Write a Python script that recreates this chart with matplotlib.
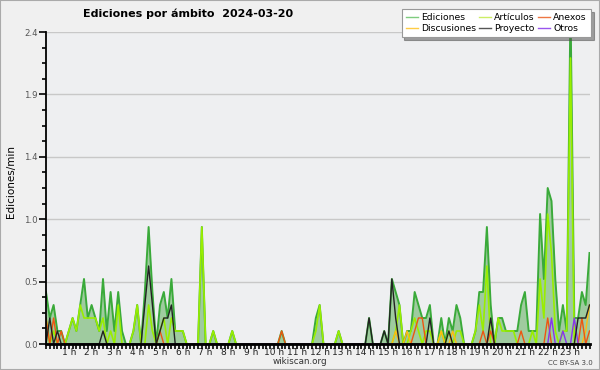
import numpy as np
import matplotlib
matplotlib.use("Agg")
import matplotlib.pyplot as plt
from matplotlib.lines import Line2D
from matplotlib.patches import Rectangle

# edits per minute, 10 minute buckets (144 per day)
ediciones = [
    0.4, 0.2, 0.3, 0.1, 0.1, 0.0, 0.1, 0.2, 0.1, 0.3, 0.5, 0.2,
    0.3, 0.2, 0.1, 0.5, 0.1, 0.4, 0.1, 0.4, 0.1, 0.0, 0.0, 0.1,
    0.3, 0.0, 0.4, 0.9, 0.4, 0.0, 0.3, 0.4, 0.2, 0.5, 0.1, 0.1,
    0.1, 0.0, 0.0, 0.0, 0.0, 0.9, 0.0, 0.0, 0.1, 0.0, 0.0, 0.0,
    0.0, 0.1, 0.0, 0.0, 0.0, 0.0, 0.0, 0.0, 0.0, 0.0, 0.0, 0.0,
    0.0, 0.0, 0.1, 0.0, 0.0, 0.0, 0.0, 0.0, 0.0, 0.0, 0.0, 0.2,
    0.3, 0.0, 0.0, 0.0, 0.0, 0.1, 0.0, 0.0, 0.0, 0.0, 0.0, 0.0,
    0.0, 0.2, 0.0, 0.0, 0.0, 0.1, 0.0, 0.5, 0.4, 0.3, 0.0, 0.1,
    0.1, 0.4, 0.3, 0.2, 0.2, 0.3, 0.0, 0.0, 0.2, 0.0, 0.2, 0.1,
    0.3, 0.2, 0.0, 0.0, 0.0, 0.1, 0.4, 0.4, 0.9, 0.3, 0.0, 0.2,
    0.2, 0.1, 0.1, 0.1, 0.1, 0.3, 0.4, 0.1, 0.1, 0.1, 1.0, 0.5,
    1.2, 1.1, 0.5, 0.1, 0.3, 0.1, 2.6, 0.2, 0.2, 0.4, 0.3, 0.7,
]
articulos = [
    0.2, 0.0, 0.1, 0.0, 0.0, 0.0, 0.1, 0.2, 0.1, 0.3, 0.2, 0.2,
    0.2, 0.2, 0.1, 0.2, 0.0, 0.1, 0.0, 0.3, 0.0, 0.0, 0.0, 0.1,
    0.3, 0.0, 0.0, 0.3, 0.1, 0.0, 0.1, 0.2, 0.0, 0.2, 0.1, 0.1,
    0.1, 0.0, 0.0, 0.0, 0.0, 0.9, 0.0, 0.0, 0.1, 0.0, 0.0, 0.0,
    0.0, 0.1, 0.0, 0.0, 0.0, 0.0, 0.0, 0.0, 0.0, 0.0, 0.0, 0.0,
    0.0, 0.0, 0.0, 0.0, 0.0, 0.0, 0.0, 0.0, 0.0, 0.0, 0.0, 0.1,
    0.3, 0.0, 0.0, 0.0, 0.0, 0.1, 0.0, 0.0, 0.0, 0.0, 0.0, 0.0,
    0.0, 0.0, 0.0, 0.0, 0.0, 0.0, 0.0, 0.0, 0.1, 0.3, 0.0, 0.0,
    0.1, 0.2, 0.1, 0.0, 0.1, 0.1, 0.0, 0.0, 0.1, 0.0, 0.1, 0.0,
    0.1, 0.1, 0.0, 0.0, 0.0, 0.1, 0.3, 0.1, 0.6, 0.0, 0.0, 0.2,
    0.1, 0.1, 0.1, 0.1, 0.0, 0.0, 0.0, 0.0, 0.1, 0.0, 0.5, 0.2,
    1.0, 0.7, 0.1, 0.0, 0.1, 0.1, 2.2, 0.0, 0.0, 0.0, 0.0, 0.0,
]
anexos = [0.0] * 144
for i, v in {0: 0.2, 2: 0.2, 4: 0.1, 30: 0.1, 62: 0.1, 97: 0.1, 98: 0.2, 99: 0.2,
             115: 0.1, 117: 0.1, 125: 0.1, 132: 0.2, 141: 0.2, 143: 0.1}.items():
    anexos[i] = v
discusiones = [0.0] * 144
for i, v in {92: 0.1, 95: 0.1, 104: 0.1, 107: 0.1, 142: 0.1, 143: 0.3}.items():
    discusiones[i] = v
proyecto = [0.0] * 144
for i, v in {1: 0.2, 3: 0.1, 15: 0.1, 26: 0.3, 27: 0.6, 28: 0.3, 30: 0.1, 31: 0.2,
             32: 0.2, 33: 0.3, 85: 0.2, 89: 0.1, 91: 0.5, 92: 0.2, 101: 0.2, 106: 0.1,
             117: 0.2, 140: 0.2, 141: 0.2, 142: 0.2, 143: 0.3}.items():
    proyecto[i] = v
otros = [0.0] * 144
for i, v in {133: 0.2, 136: 0.1, 139: 0.2}.items():
    otros[i] = v

hour_labels = ["%d h" % h for h in range(1, 24)]
ytick_vals = [0.0, 0.48, 0.96, 1.44, 1.92, 2.4]
ytick_labels = ["0.0", "0.5", "1.0", "1.4", "1.9", "2.4"]

x = np.arange(144)

fig = plt.figure(figsize=(6, 3.7), dpi=100, facecolor="#f0f0f0")
ax = fig.add_axes([46 / 600, 26 / 370, 543.5 / 600, 312 / 370])
ax.set_facecolor("#eeeff1")

ax.fill_between(x, ediciones, color="#9fcb9f", lw=0)
ax.plot(x, ediciones, color="#3aaa3a", lw=1.4)
ax.plot(x, articulos, color="#99ee00", lw=1.2)
ax.plot(x, discusiones, color="#ffbb11", lw=1.0)
ax.plot(x, anexos, color="#ee5511", lw=1.0)
ax.plot(x, otros, color="#8833ee", lw=1.0)
ax.plot(x, proyecto, color="#222222", lw=1.0)

ax.set_xlim(0, 143)
ax.set_ylim(0, 2.4)

ax.set_yticks(ytick_vals)
ax.set_yticklabels(ytick_labels)
ax.set_yticks(np.arange(0, 2.41, 0.12), minor=True)
ax.set_xticks([6 * h for h in range(1, 24)])
ax.set_xticklabels(hour_labels)
ax.set_xticks(x, minor=True)

ax.grid(axis="y", color="#c8c8c8", lw=1)
ax.set_axisbelow(True)
for s in ["top", "right"]:
    ax.spines[s].set_visible(False)
ax.spines["left"].set_linewidth(1.3)
ax.spines["bottom"].set_linewidth(2)

ax.tick_params(axis="x", which="both", direction="out", length=3.5, width=1.2,
               pad=-0.5, labelsize=6.5, labelcolor="#222222")
ax.tick_params(axis="y", which="major", length=5, width=1.2, pad=1,
               labelsize=6.2, labelcolor="#555555")
ax.tick_params(axis="y", which="minor", length=3, width=1.2)

fig.text(0.313, 0.962, "Ediciones por ámbito  2024-03-20", ha="center", va="center",
         fontsize=8.0, fontweight="bold")
fig.text(0.018, 0.51, "Ediciones/min", rotation=90, ha="center", va="center", fontsize=7.5)
fig.text(0.5, 0.022, "wikiscan.org", ha="center", va="center", fontsize=6.3, color="#333333")
fig.text(0.95, 0.02, "CC BY-SA 3.0", ha="center", va="center", fontsize=5, color="#444444")

handles = [
    Line2D([], [], color="#7fcc7f", lw=1),
    Line2D([], [], color="#ffcc44", lw=1),
    Line2D([], [], color="#ccee66", lw=1),
    Line2D([], [], color="#555555", lw=1),
    Line2D([], [], color="#ee7744", lw=1),
    Line2D([], [], color="#9955ee", lw=1),
]
names = ["Ediciones", "Discusiones", "Artículos", "Proyecto", "Anexos", "Otros"]
leg = fig.legend(handles, names, ncol=3, loc="upper right", bbox_to_anchor=(0.985, 0.975),
                 fontsize=6.7, frameon=True, fancybox=False, shadow=True,
                 handlelength=1.3, handletextpad=0.35, columnspacing=0.3,
                 labelspacing=0.2, borderpad=0.45, borderaxespad=0)
leg.get_frame().set_edgecolor("#999999")
leg.get_frame().set_linewidth(0.8)

fig.patches.append(Rectangle((0, 0), 1, 1, transform=fig.transFigure, fill=False,
                             edgecolor="#aaaaaa", lw=1.5))

fig.savefig("out.png", dpi=100, facecolor=fig.get_facecolor())
